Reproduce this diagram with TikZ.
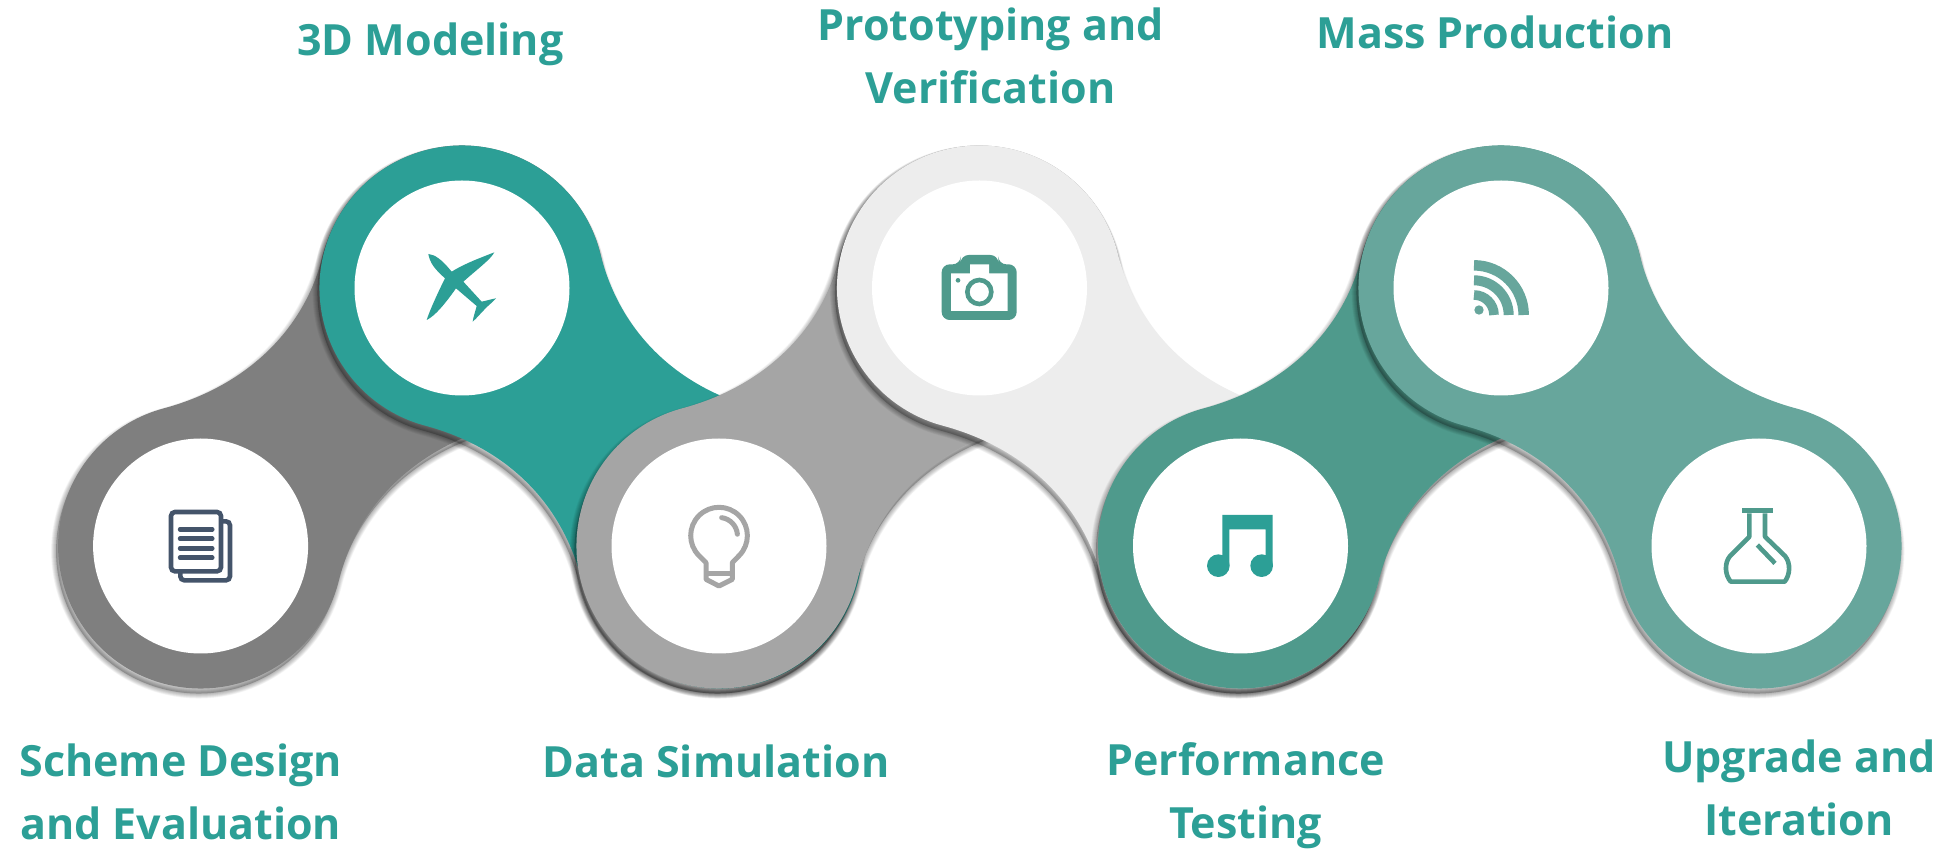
\documentclass[tikz,border=0pt]{standalone}
\usepackage{fontspec}
\setmainfont{Open Sans}
\usetikzlibrary{calc}
\definecolor{cgreyA}{HTML}{7F7F7F}
\definecolor{cteal}{HTML}{2C9F96}
\definecolor{cgreyB}{HTML}{A5A5A5}
\definecolor{cpale}{HTML}{EDEDED}
\definecolor{cgreen}{HTML}{4F9A8C}
\definecolor{csage}{HTML}{67A69C}
\definecolor{cnavy}{HTML}{44546A}
\def\Rr{142.5}
\def\Tt{82}
% local outline of one link: first lobe at the origin, second at (dx,-258)
\newcommand{\blobpath}[1]{(14:\Rr) arc[start angle=14,end angle=255,radius=\Rr]
  .. controls ($(255:\Rr)+(345:\Tt)$) and ($(#1,-258)+(194:\Rr)+(104:\Tt)$) .. ($(#1,-258)+(194:\Rr)$)
  arc[start angle=194,end angle=435,radius=\Rr]
  .. controls ($(#1,-258)+(75:\Rr)+(165:\Tt)$) and ($(14:\Rr)+(284:\Tt)$) .. (14:\Rr) -- cycle}
% #1 x, #2 image y, #3 dx, #4 yscale, #5 colour
\newcommand{\piece}[5]{%
  \begin{scope}[shift={(-2,-5)}]
    \begin{scope}[shift={(#1,849-#2)},yscale=#4]
      \fill[black,opacity=.22] \blobpath{#3};
    \end{scope}
  \end{scope}%
  \foreach \w in {10,9,8,7,6,5,4,3,2,1}{%
    \begin{scope}[shift={(-2,-5)}]
      \begin{scope}[shift={(#1,849-#2)},yscale=#4]
        \draw[black,opacity=.03,line width=\w pt,line join=round] \blobpath{#3};
      \end{scope}
    \end{scope}}%
  \begin{scope}[shift={(#1,849-#2)},yscale=#4]
    \fill[#5] \blobpath{#3};
  \end{scope}}
\tikzset{
  hole/.style={fill=white,draw=none,circle,minimum size=215pt,inner sep=0pt},
  label/.style={text=cteal,font=\fontsize{43}{63}\selectfont\bfseries,align=center,inner sep=0pt},
  icon/.style={shift={(#1)},scale=1/3,yscale=-1}
}
\begin{document}
\begin{tikzpicture}[x=1pt,y=1pt]
\useasboundingbox (0,0) rectangle (1954,849);
\fill[white] (0,0) rectangle (1954,849);
\piece{200.6}{546}{261.4}{-1}{cgreyA}
\piece{462}{288}{258}{1}{cteal}
\piece{719}{546}{260.5}{-1}{cgreyB}
\piece{979.5}{288}{261}{1}{cpale}
\piece{1240.5}{546}{260.5}{-1}{cgreen}
\piece{1501}{288}{258}{1}{csage}
\node[hole] (h1) at (200.6,303) {};
\node[hole] (h2) at (462,561) {};
\node[hole] (h3) at (719,303) {};
\node[hole] (h4) at (979.5,561) {};
\node[hole] (h5) at (1240.5,303) {};
\node[hole] (h6) at (1501,561) {};
\node[hole] (h7) at (1759,303) {};
% document icon
\begin{scope}[icon={150,359}]
  \draw[cnavy,line width=4.6pt,rounded corners=4pt] (63,66) rectangle (213,244);
  \draw[cnavy,line width=4.6pt,rounded corners=4pt] (216,94) -- (240,94) -- (240,271) -- (91,271) -- (91,247);
  \draw[cnavy,line width=4.4pt,line cap=round] (90,118) -- (187,118) (90,146) -- (187,146) (90,175) -- (187,175) (90,203) -- (187,203);
\end{scope}
% aeroplane icon
\begin{scope}[icon={400,619}]
  \fill[cteal] (85,72) .. controls (105,74) and (125,88) .. (155,125)
    .. controls (195,100) and (245,82) .. (283,67)
    .. controls (272,88) and (235,115) .. (190,155)
    -- (245,215) .. controls (260,212) and (275,207) .. (288,205)
    .. controls (275,220) and (262,228) .. (252,240)
    .. controls (240,252) and (230,265) .. (218,275)
    .. controls (220,260) and (226,245) .. (230,228)
    -- (168,175) .. controls (135,222) and (105,258) .. (80,270)
    .. controls (88,245) and (110,195) .. (135,145)
    .. controls (105,118) and (90,100) .. (85,72) -- cycle;
\end{scope}
% light bulb icon
\begin{scope}[icon={670,359}]
  \draw[cgreyB,line width=5pt,line join=round,line cap=round]
    (108,218) -- (87,197) arc[start angle=135,end angle=405,radius=85] -- (187,218)
    -- (187,268) -- (147,288) -- (108,268) -- cycle;
  \draw[cgreyB,line width=5pt] (108,252) -- (187,252);
  \draw[cgreyB,line width=5pt,line cap=round] (155,83) arc[start angle=278,end angle=355,radius=55];
\end{scope}
% camera icon
\begin{scope}[icon={920,609}]
  \fill[cgreen,rounded corners=8pt] (65,73) -- (122,73) -- (122,45) -- (235,45) -- (235,73) -- (290,73) -- (290,240) -- (65,240) -- cycle;
  \fill[white] (93,100) -- (150,100) -- (150,73) -- (207,73) -- (207,100) -- (263,100) -- (263,213) -- (93,213) -- cycle;
  \draw[cgreen,line width=4.6pt] (178,156) circle[radius=36];
  \fill[cgreen] (114,121) circle[radius=7];
\end{scope}
% music icon
\begin{scope}[icon={1190,349}]
  \fill[cteal] (97,45) -- (248,45) -- (248,197) -- (227,197) -- (227,88) -- (118,88) -- (118,197) -- (97,197) -- cycle;
  \fill[cteal] (85,197) circle[radius=34] (215,197) circle[radius=34];
\end{scope}
% feed icon
\begin{scope}[icon={1450,599}]
  \fill[csage] (87,180) circle[radius=14];
  \draw[csage,line width=10.5pt] (72,46) arc[start angle=270,end angle=360,radius=149];
  \draw[csage,line width=10pt] (72,91) arc[start angle=270,end angle=360,radius=104];
  \draw[csage,line width=9.6pt] (72,135) arc[start angle=270,end angle=360,radius=60];
\end{scope}
% flask icon
\begin{scope}[icon={1710,354}]
  \fill[cgreen] (96,40) rectangle (188,55);
  \draw[cgreen,line width=4.6pt,line join=round]
    (118,55) -- (118,125) -- (60,183) .. controls (42,205) and (45,240) .. (62,260) -- (224,260)
    .. controls (240,240) and (243,205) .. (225,183) -- (165,125) -- (165,55);
  \draw[cgreen,line width=4.6pt] (142,150) -- (195,205);
\end{scope}
\node[label] (t1) at (180.7,57) {Scheme Design\\and Evaluation};
\node[label] (t2) at (430.5,805) {3D Modeling};
\node[label] (t3) at (716,88) {Data Simulation};
\node[label] (t4) at (990.6,793) {Prototyping and\\Verification};
\node[label] (t5) at (1245.5,53) {Performance\\Testing};
\node[label] (t6) at (1495,817) {Mass Production};
\node[label] (t7) at (1799,61) {Upgrade and\\Iteration};
\end{tikzpicture}
\end{document}
